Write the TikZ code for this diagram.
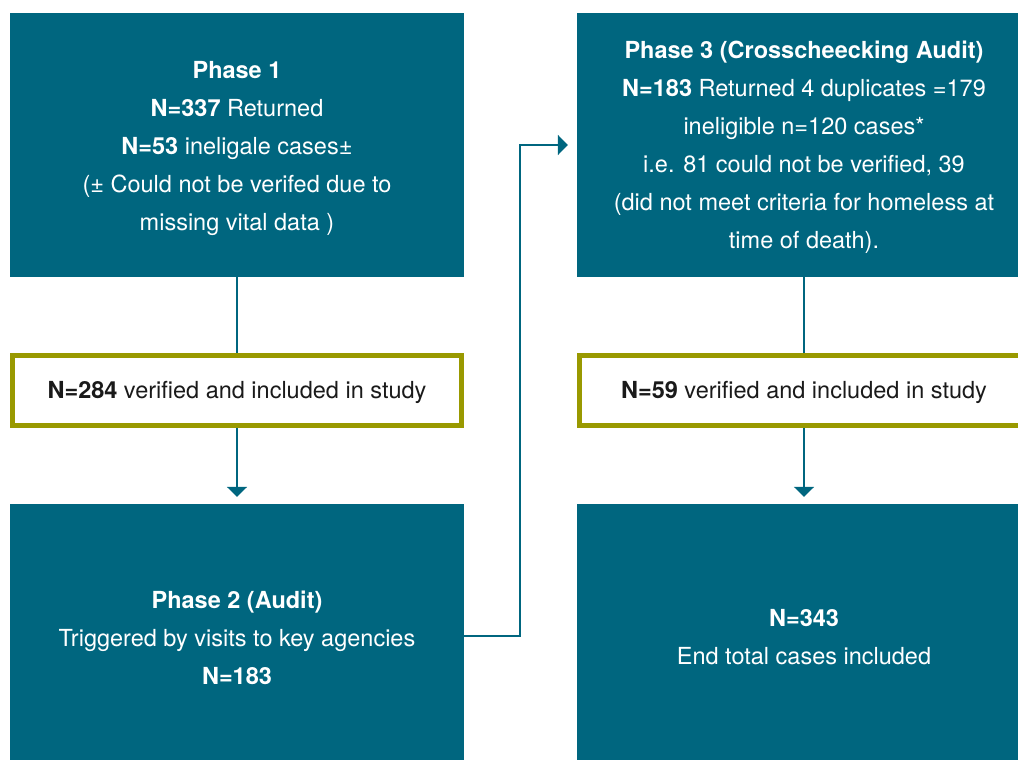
\documentclass[tikz,border=0pt]{standalone}
\usepackage{fontspec}
\setmainfont{TeX Gyre Heros}
\usetikzlibrary{arrows.meta}
\definecolor{teal1}{HTML}{00667F}
\definecolor{olive1}{HTML}{999900}
\definecolor{txtdark}{HTML}{1A1A1A}
\begin{document}
\begin{tikzpicture}[x=1pt,y=-1pt,
  boxfont/.style={font=\fontsize{23.5}{38}\selectfont},
  tealbox/.style={fill=teal1,draw=none,minimum width=454pt,inner sep=0pt,text=white,align=center,boxfont},
  greenbox/.style={fill=white,draw=olive1,line width=5pt,minimum width=449pt,minimum height=70pt,inner sep=0pt,
    text=txtdark,align=center,boxfont},
  conn/.style={draw=teal1,line width=2pt},
  arr/.style={conn,-{Triangle[length=10pt,width=20pt]}}]
\useasboundingbox (0,0) rectangle (1018,760);
\clip (0,0) rectangle (1018,760);
\node[tealbox,minimum height=264pt] (p1) at (237,145) {};
\node[greenbox] (g1) at (237,390.5) {};
\node[tealbox,minimum height=266pt] (p2) at (237,637) {};
\node[tealbox,minimum height=264pt] (p3) at (804,145) {};
\node[greenbox] (g3) at (804,390.5) {};
\node[tealbox,minimum height=266pt] (p4) at (804,637) {};
\begin{scope}[every node/.style={align=center,boxfont,inner sep=0pt}]
\node[text=white] (t1) at (237,148) {\textbf{Phase 1}\\\textbf{N=337} Returned\\\textbf{N=53} ineligale cases±\\(± Could not be verifed due to\\missing vital data )};
\node[text=txtdark] (t2) at (237,392.5) {\textbf{N=284} verified and included in study};
\node[text=white] (t3) at (237,637.5) {\textbf{Phase 2 (Audit)}\\Triggered by visits to key agencies\\\textbf{N=183}};
\node[text=white] (t4) at (804,147.5) {\textbf{Phase 3 (Crosscheecking Audit)}\\\textbf{N=183} Returned 4 duplicates =179\\ineligible n=120 cases*\\i.e. 81 could not be verified, 39\\(did not meet criteria for homeless at\\time of death).};
\node[text=txtdark] (t5) at (804,392.5) {\textbf{N=59} verified and included in study};
\node[text=white] (t6) at (804,637.5) {\textbf{N=343}\\End total cases included};
\end{scope}
\coordinate (e1) at (520,636);
\coordinate (e2) at (520,145);
\draw[conn] (p1.south) -- (g1.north);
\draw[arr] (g1.south) -- ([yshift=7pt]p2.north);
\draw[arr] (p2.east |- e1) -- (e1) -- (e2) -- ([xshift=-9pt]p3.west |- e2);
\draw[conn] (p3.south) -- (g3.north);
\draw[arr] (g3.south) -- ([yshift=7pt]p4.north);
\end{tikzpicture}
\end{document}
